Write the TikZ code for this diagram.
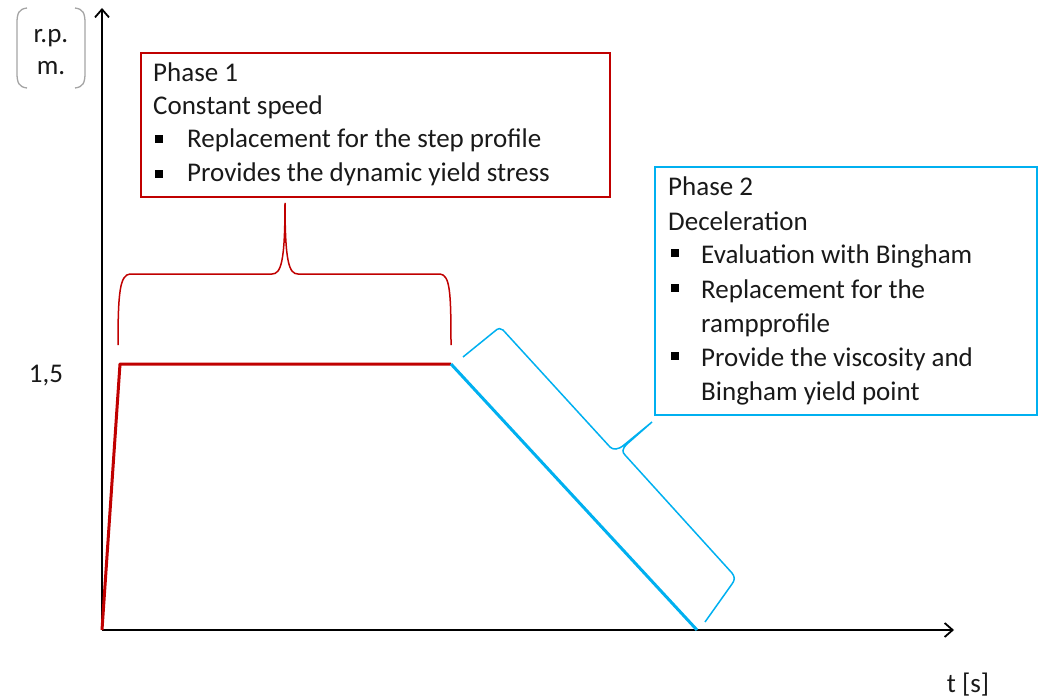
\documentclass[tikz,border=0pt]{standalone}
\usepackage{fontspec}
\setmainfont{Carlito}
\usetikzlibrary{arrows.meta}
\definecolor{pred}{RGB}{192,0,0}
\definecolor{pblue}{RGB}{0,176,240}
\definecolor{bgray}{RGB}{165,165,165}
\definecolor{tcol}{RGB}{25,25,25}
\tikzset{
  axis/.style={line width=2.4pt,-{Straight Barb[length=8pt,width=14pt,line width=1.8pt]}},
  redline/.style={pred,line width=3pt},
  blueline/.style={pblue,line width=3pt},
  redbox/.style={draw=pred,line width=2pt},
  bluebox/.style={draw=pblue,line width=2pt},
  bracered/.style={pred,line width=1.5pt},
  braceblue/.style={pblue,line width=1.5pt},
  txt/.style={inner sep=0pt,anchor=base west,text=tcol,font=\fontsize{27}{32}\selectfont},
  bul/.style={fill=black,inner sep=0pt,minimum size=8pt},
}
\begin{document}
\begin{tikzpicture}[x=1pt,y=-1pt]
\useasboundingbox (0,0) rectangle (1039,698);
% axes
\coordinate (O) at (102,630);
\coordinate (ytip) at (102,8);
\coordinate (xtip) at (954,630);
\draw[axis] (O) -- (ytip);
\draw[axis] (O) -- (xtip);
% profile
\coordinate (p1) at (120,364);
\coordinate (p2) at (451,364);
\coordinate (p3) at (697,630);
\draw[redline,line join=round] (O) -- (p1) -- (p2);
\draw[blueline] (p2) -- (p3);
% labels
\node[txt,anchor=base] (v15) at (46,382) {1,5};
\node[txt,anchor=base] (tl) at (968,692) {t [s]};
\node[txt,anchor=base] (rp) at (51,43) {r.p.};
\node[txt,anchor=base] (rm) at (51,75) {m.};
\draw[bgray,line width=1.3pt] (27,8) .. controls (19,9) and (17,13) .. (17,23) -- (17,73) .. controls (17,83) and (19,87) .. (27,88);
\draw[bgray,line width=1.3pt] (75,8) .. controls (83,9) and (85,13) .. (85,23) -- (85,73) .. controls (85,83) and (83,87) .. (75,88);
% red box
\draw[redbox] (141,53) rectangle (610,197);
\node[txt] (r1) at (153,82) {Phase 1};
\node[txt] (r2) at (153,115) {Constant speed};
\node[bul] (rb1) at (159,139) {};
\node[txt] (r3) at (187,148) {Replacement for the step profile};
\node[bul] (rb2) at (159,174) {};
\node[txt] (r4) at (187,182) {Provides the dynamic yield stress};
% blue box
\draw[bluebox] (655,167) rectangle (1037,415);
\node[txt] (b1) at (668,196) {Phase 2};
\node[txt] (b2) at (668,230) {Deceleration};
\node[bul] (bb1) at (675,253) {};
\node[txt] (b3) at (701,263) {Evaluation with Bingham};
\node[bul] (bb2) at (675,288) {};
\node[txt] (b4) at (701,298) {Replacement for the};
\node[txt] (b5) at (701,332) {rampprofile};
\node[bul] (bb3) at (675,356) {};
\node[txt] (b6) at (701,366) {Provide the viscosity and};
\node[txt] (b7) at (701,400) {Bingham yield point};
% red brace
\draw[bracered] (118,345) .. controls (118,292) and (120,275) .. (130,274) -- (272,274)
  .. controls (281,274) and (285,262) .. (285,203)
  .. controls (285,262) and (289,274) .. (298,274) -- (440,274)
  .. controls (450,275) and (451,292) .. (451,345);
% blue brace
\draw[braceblue] (463,357) -- (495,331) .. controls (498,328) and (501,328) .. (503,330)
  -- (610,447) .. controls (613,450) and (618,450) .. (624,445) -- (652,422)
  -- (627,444) .. controls (622,449) and (622,452) .. (625,455)
  -- (732,573) .. controls (735,577) and (735,580) .. (732,584) -- (705,622);
\end{tikzpicture}
\end{document}
